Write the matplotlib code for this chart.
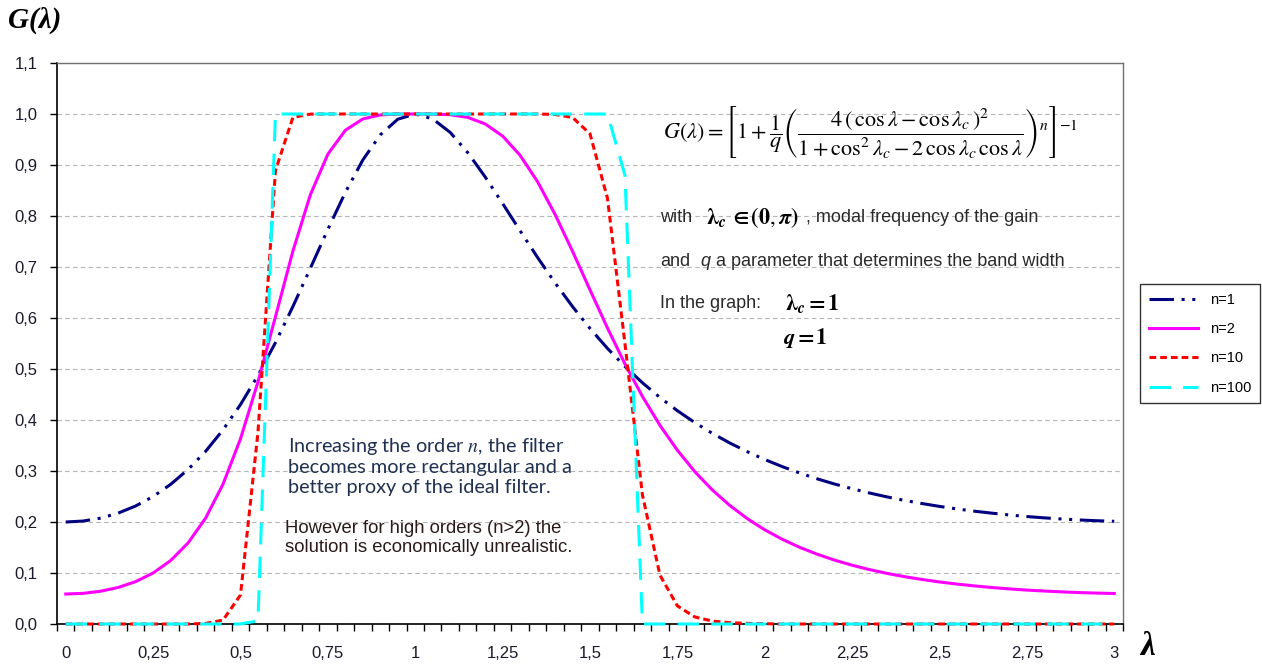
import numpy as np
import matplotlib
matplotlib.use("Agg")
import matplotlib.pyplot as plt

plt.rcParams['font.family'] = ['Liberation Sans', 'DejaVu Sans']
plt.rcParams['mathtext.fontset'] = 'stix'

# lambda grid (category axis, step 0.05)
lam = [0.00, 0.05, 0.10, 0.15, 0.20, 0.25, 0.30, 0.35, 0.40, 0.45,
       0.50, 0.55, 0.60, 0.65, 0.70, 0.75, 0.80, 0.85, 0.90, 0.95,
       1.00, 1.05, 1.10, 1.15, 1.20, 1.25, 1.30, 1.35, 1.40, 1.45,
       1.50, 1.55, 1.60, 1.65, 1.70, 1.75, 1.80, 1.85, 1.90, 1.95,
       2.00, 2.05, 2.10, 2.15, 2.20, 2.25, 2.30, 2.35, 2.40, 2.45,
       2.50, 2.55, 2.60, 2.65, 2.70, 2.75, 2.80, 2.85, 2.90, 2.95, 3.00]

g_n1 = [0.2000, 0.2019, 0.2076, 0.2174, 0.2314, 0.2500, 0.2737, 0.3029, 0.3384, 0.3807,
        0.4302, 0.4874, 0.5517, 0.6226, 0.6977, 0.7738, 0.8463, 0.9099, 0.9591, 0.9898,
        1.0000, 0.9904, 0.9639, 0.9245, 0.8767, 0.8245, 0.7711, 0.7187, 0.6689, 0.6224,
        0.5795, 0.5404, 0.5050, 0.4730, 0.4442, 0.4182, 0.3949, 0.3738, 0.3549, 0.3379,
        0.3225, 0.3086, 0.2960, 0.2847, 0.2744, 0.2652, 0.2568, 0.2492, 0.2423, 0.2362,
        0.2306, 0.2256, 0.2212, 0.2173, 0.2138, 0.2107, 0.2081, 0.2059, 0.2040, 0.2025, 0.2014]

g_n2 = [0.0588, 0.0601, 0.0643, 0.0716, 0.0831, 0.1000, 0.1243, 0.1589, 0.2074, 0.2742,
        0.3632, 0.4747, 0.6024, 0.7313, 0.8419, 0.9213, 0.9681, 0.9903, 0.9982, 0.9999,
        1.0000, 0.9999, 0.9986, 0.9934, 0.9806, 0.9567, 0.9190, 0.8672, 0.8032, 0.7309,
        0.6551, 0.5803, 0.5100, 0.4462, 0.3897, 0.3407, 0.2986, 0.2628, 0.2324, 0.2066,
        0.1847, 0.1661, 0.1503, 0.1368, 0.1252, 0.1152, 0.1066, 0.0992, 0.0928, 0.0873,
        0.0824, 0.0783, 0.0747, 0.0715, 0.0688, 0.0665, 0.0646, 0.0630, 0.0616, 0.0606, 0.0598]

g_n10 = [0.0, 0.0, 0.0, 0.0, 0.0, 0.0, 0.0, 0.0, 0.0012, 0.0076,
         0.0568, 0.3760, 0.8890, 0.9933, 0.9998, 1.0, 1.0, 1.0, 1.0, 1.0,
         1.0, 1.0, 1.0, 1.0, 1.0, 1.0, 1.0, 1.0, 0.9991, 0.9933,
         0.9611, 0.8348, 0.5497, 0.2533, 0.0960, 0.0355, 0.0138, 0.0057, 0.0025, 0.0012,
         0.0006, 0.0, 0.0, 0.0, 0.0, 0.0, 0.0, 0.0, 0.0, 0.0,
         0.0, 0.0, 0.0, 0.0, 0.0, 0.0, 0.0, 0.0, 0.0, 0.0, 0.0]

g_n100 = [0.0, 0.0, 0.0, 0.0, 0.0, 0.0, 0.0, 0.0, 0.0, 0.0,
          0.0, 0.0063, 1.0, 1.0, 1.0, 1.0, 1.0, 1.0, 1.0, 1.0,
          1.0, 1.0, 1.0, 1.0, 1.0, 1.0, 1.0, 1.0, 1.0, 1.0,
          1.0, 1.0, 0.8803, 0.0, 0.0, 0.0, 0.0, 0.0, 0.0, 0.0,
          0.0, 0.0, 0.0, 0.0, 0.0, 0.0, 0.0, 0.0, 0.0, 0.0,
          0.0, 0.0, 0.0, 0.0, 0.0, 0.0, 0.0, 0.0, 0.0, 0.0, 0.0]

x_labels = ["0", "0,25", "0,5", "0,75", "1", "1,25", "1,5", "1,75",
            "2", "2,25", "2,5", "2,75", "3"]
y_labels = ["0,0", "0,1", "0,2", "0,3", "0,4", "0,5", "0,6",
            "0,7", "0,8", "0,9", "1,0", "1,1"]

W, H = 1262, 664
fig = plt.figure(figsize=(W / 100, H / 100), dpi=100)
ax = fig.add_axes([57 / W, 1 - 624 / H, (1123 - 57) / W, (624 - 63) / H])

def fx(px):
    return px / W

def fy(py):
    return 1 - py / H

lw = 2.2
ax.plot(lam, g_n1, color='#000080', lw=lw, ls=(0, (8, 2.5, 1, 2.5, 1, 2.5)), label='n=1', clip_on=False, zorder=3)
ax.plot(lam, g_n2, color='#ff00ff', lw=lw, ls='-', label='n=2', clip_on=False, zorder=4)
ax.plot(lam, g_n10, color='#ff0000', lw=lw, ls=(0, (2.2, 1.3)), label='n=10', clip_on=False, zorder=5)
ax.plot(lam, g_n100, color='#00ffff', lw=lw, ls=(0, (7, 4)), label='n=100', clip_on=False, zorder=6)

ax.set_xlim(-0.025, 3.025)
ax.set_ylim(0, 1.1)

# x: labels at 0.25 steps, tick marks between categories
ax.set_xticks(np.arange(0, 3.01, 0.25))
ax.set_xticklabels(x_labels)
ax.set_xticks(np.arange(-0.025, 3.05, 0.05), minor=True)
ax.tick_params(axis='x', which='major', length=0, pad=16, labelsize=12, labelcolor='#1a1a2a')
ax.tick_params(axis='x', which='minor', length=5, width=1, direction='out', color='black')

ax.set_yticks(np.arange(0, 1.101, 0.1))
ax.set_yticklabels(y_labels)
ax.tick_params(axis='y', length=5, width=1, direction='out', pad=9, labelsize=12, labelcolor='#1a1a2a')

ax.yaxis.grid(True, color='#b4b4b4', ls=(0, (4, 3)), lw=0.8)
ax.set_axisbelow(True)
for s in ['left', 'bottom']:
    ax.spines[s].set_color('black')
    ax.spines[s].set_linewidth(1.2)
for s in ['top', 'right']:
    ax.spines[s].set_color('#707070')
    ax.spines[s].set_linewidth(1.0)

# axis titles
fig.text(fx(8), fy(28), 'G(λ)', family='Liberation Serif', weight='bold', style='italic',
         fontsize=21, va='baseline', ha='left')
fig.text(fx(1140), fy(655), 'λ', family='Liberation Serif', weight='bold', style='italic',
         fontsize=24, va='baseline', ha='left')

# formula and description
fig.text(fx(870), fy(132),
         r'$G(\lambda)=\left[1+\dfrac{1}{q}\left(\dfrac{4\,(\,\cos\lambda-\cos\lambda_c\,)^2}'
         r'{1+\cos^2\lambda_c-2\,\cos\lambda_c\,\cos\lambda}\right)^n\right]^{-1}$',
         fontsize=16, ha='center', va='center', color='black')

txt_col = '#2a2a2a'
fs = 13
fig.text(fx(660), fy(218), 'with', fontsize=fs, va='center', color=txt_col)
fig.text(fx(706), fy(218), r'$\boldsymbol{\lambda}_{\boldsymbol{c}}\,\boldsymbol{\in (0,\pi)}$', fontsize=16, va='center', color='black')
fig.text(fx(806), fy(218), ', modal frequency of the gain', fontsize=fs, va='center', color=txt_col)
fig.text(fx(660), fy(261), 'and', fontsize=fs, va='center', color=txt_col)
fig.text(fx(700), fy(261), 'q', fontsize=fs, style='italic', va='center', color=txt_col)
fig.text(fx(716), fy(261), 'a parameter that determines the band width', fontsize=fs, va='center', color=txt_col)
fig.text(fx(660), fy(304), 'In the graph:', fontsize=fs, va='center', color=txt_col)
fig.text(fx(785), fy(304), r'$\boldsymbol{\lambda}_{\boldsymbol{c}}\boldsymbol{ = 1}$', fontsize=16, va='center', color='black')
fig.text(fx(783), fy(338), r'$\boldsymbol{q = 1}$', fontsize=16, va='center', color='black')

# comments in the plot
fig.text(fx(288), fy(466), 'Increasing the order $n$, the filter\nbecomes more rectangular and a\nbetter proxy of the ideal filter.',
         family='Lato', fontsize=14.3, va='center', ha='left', color='#1f3050', linespacing=1.2)
fig.text(fx(285), fy(538), 'However for high orders (n>2) the\nsolution is economically unrealistic.',
         fontsize=13.3, va='center', ha='left', color='#2a1a1a', linespacing=1.1)

leg = fig.legend(loc='upper left', bbox_to_anchor=(fx(1140), fy(284)), frameon=True, fancybox=False,
                 edgecolor='black', fontsize=10.5, handlelength=3.4, labelspacing=1.05,
                 borderpad=0.6, handletextpad=0.8, borderaxespad=0, shadow=False)
leg.get_frame().set_linewidth(1.0)

fig.savefig('out.png', dpi=100)
